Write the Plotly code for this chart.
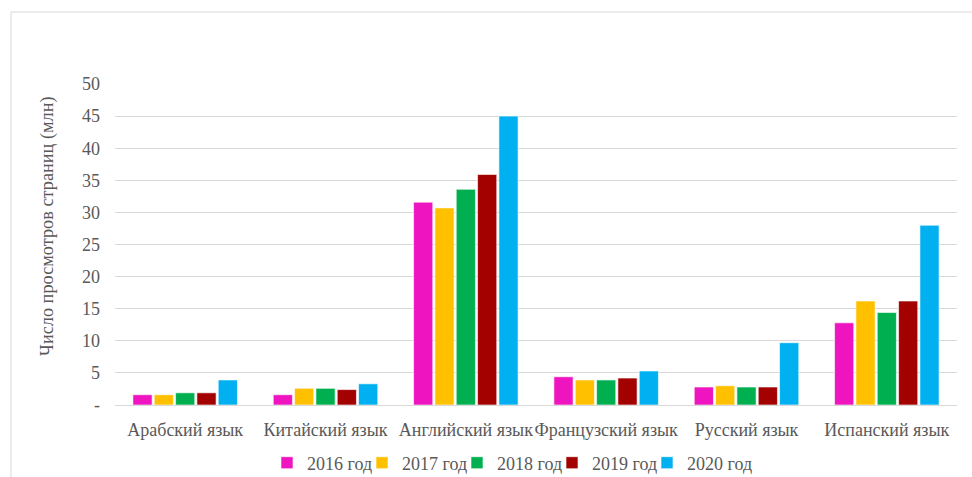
import plotly.graph_objects as go

categories = ["Арабский язык", "Китайский язык", "Английский язык",
              "Французский язык", "Русский язык", "Испанский язык"]
series_names = ["2016 год", "2017 год", "2018 год", "2019 год", "2020 год"]
v2016 = [1.6, 1.6, 31.6, 4.4, 2.8, 12.8]
v2017 = [1.6, 2.6, 30.7, 3.9, 3.0, 16.2]
v2018 = [1.9, 2.6, 33.6, 3.9, 2.8, 14.4]
v2019 = [1.9, 2.4, 35.9, 4.2, 2.8, 16.2]
v2020 = [3.9, 3.3, 45.0, 5.3, 9.7, 28.0]
colors = ["#EE14BF", "#FFC000", "#00B050", "#A30000", "#00B0F0"]
y_tickvals = [0, 5, 10, 15, 20, 25, 30, 35, 40, 45, 50]
y_ticktext = ["-", "5", "10", "15", "20", "25", "30", "35", "40", "45", "50"]
y_title = "Число просмотров страниц (млн)"

FONT = "Liberation Serif, Times New Roman, serif"
GRAY = "#595959"

ml, mr, mt, mb = 115, 15, 84, 72
W, H = 972, 477
pw, ph = W - ml - mr, H - mt - mb

# legend entry pixel positions (symbol centres)
legend_px = [287, 382, 477, 572, 667]
legend_ids = ["legend", "legend2", "legend3", "legend4", "legend5"]

fig = go.Figure()
for name, vals, col, lid in zip(series_names, [v2016, v2017, v2018, v2019, v2020],
                                colors, legend_ids):
    fig.add_trace(go.Bar(
        x=categories, y=vals, name=name, legend=lid,
        marker=dict(color=col, line=dict(color="rgba(255,255,255,0.6)", width=1)),
    ))

legends = {}
for lid, px in zip(legend_ids, legend_px):
    legends[lid] = dict(orientation="h", x=(px - 20 - ml) / pw, xanchor="left",
                        y=(405 - 463) / ph, yanchor="middle",
                        font=dict(family=FONT, size=18, color=GRAY),
                        itemwidth=30, bgcolor="rgba(0,0,0,0)")

fig.update_layout(
    width=W, height=H,
    margin=dict(l=ml, r=mr, t=mt, b=mb, autoexpand=False),
    paper_bgcolor="white", plot_bgcolor="white",
    barmode="group", bargap=0.24, bargroupgap=0.1,
    font=dict(family=FONT, color=GRAY, size=18),
    showlegend=True,
    xaxis=dict(showgrid=False, showline=False, zeroline=False,
               tickfont=dict(family=FONT, size=18, color=GRAY),
               tickangle=0, ticks="", ticklabelstandoff=12),
    yaxis=dict(range=[0, 50], tickvals=y_tickvals, ticktext=y_ticktext,
               showgrid=True, gridcolor="#D9D9D9", gridwidth=1,
               zeroline=True, zerolinecolor="#D9D9D9", zerolinewidth=1,
               showline=False, ticks="", ticklabelstandoff=14,
               tickfont=dict(family=FONT, size=18, color=GRAY)),
    annotations=[dict(text=y_title, textangle=-90, showarrow=False,
                      xref="paper", yref="paper",
                      x=(47 - ml) / pw, y=(405 - 226) / ph,
                      xanchor="center", yanchor="middle",
                      font=dict(family=FONT, size=18.3, color=GRAY))],
    shapes=[dict(type="rect", xref="paper", yref="paper",
                 x0=(11 - ml) / pw, x1=(W + 20 - ml) / pw,
                 y0=-(H + 20 - mt - ph) / ph, y1=1 + (mt - 12) / ph,
                 line=dict(color="#D9D9D9", width=1), layer="below")],
    **legends,
)

fig.write_html("out.html", config={"displayModeBar": False},
               post_script="document.body.style.margin='0';")
